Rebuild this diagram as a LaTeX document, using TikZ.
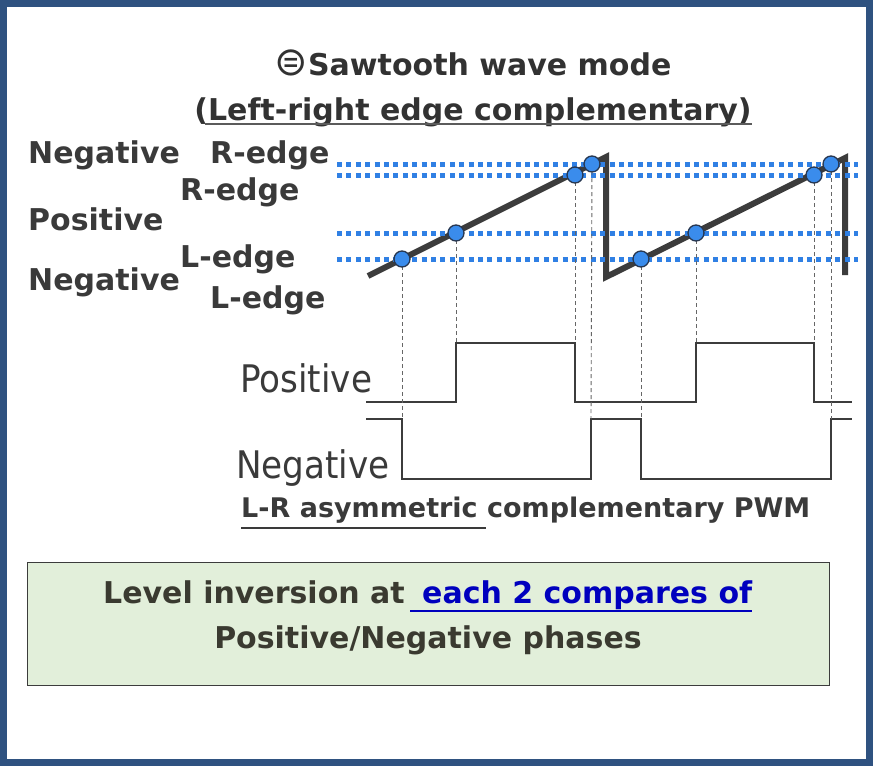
\documentclass[tikz,border=0pt]{standalone}
\usepackage{fontspec}
\setmainfont{DejaVu Sans}
\newfontfamily\wfont{DejaVu Sans}[FakeStretch=0.9]
\usetikzlibrary{calc}
\newcommand\setfs[1]{\fontsize{#1}{#1}\selectfont}
\definecolor{frameblue}{RGB}{47,82,128}
\definecolor{txt}{RGB}{58,58,58}
\definecolor{titc}{RGB}{50,50,50}
\definecolor{sawc}{RGB}{60,60,60}
\definecolor{dotblue}{RGB}{48,128,228}
\definecolor{circblue}{RGB}{58,140,236}
\definecolor{dotedge}{RGB}{40,55,80}
\definecolor{boxgreen}{RGB}{226,239,218}
\definecolor{boxedge}{RGB}{60,60,60}
\definecolor{boxtxt}{RGB}{58,58,48}
\definecolor{linkblue}{RGB}{0,0,190}
\begin{document}
\begin{tikzpicture}[x=1pt,y=-1pt,
  lbl/.style={inner sep=0pt, anchor=base west, text=txt, font=\bfseries\setfs{30}},
  wlbl/.style={inner sep=0pt, anchor=base west, text=txt, font=\wfont\setfs{38}},
  refline/.style={dotblue, line width=5pt, dash pattern=on 5pt off 4.4pt},
  sawline/.style={sawc, line width=6pt, line join=miter},
  vguide/.style={black!60, line width=0.9pt, dash pattern=on 4pt off 3pt},
  wave/.style={sawc, line width=1.6pt},
  dotc/.style={circle, fill=circblue, draw=dotedge, line width=1.3pt, minimum size=16pt, inner sep=0pt}
]
\useasboundingbox (0,0) rectangle (875,766);
\fill[white] (0,0) rectangle (875,766);
\draw[frameblue, line width=7pt] (3.5,3.5) rectangle (869.5,762.5);

% title
\node[inner sep=0pt, anchor=base, text=titc, font=\bfseries\setfs{30}] (t1) at (473,75) {{\mdseries\setfs{40}⊜}Sawtooth wave mode};
\node[inner sep=0pt, anchor=base, text=titc, font=\bfseries\setfs{30}] (t2) at (473,120) {(Left-right edge complementary)};
\draw[titc!80, line width=2pt] ($(t2.base west)+(11,3.5)$) -- ($(t2.base east)+(0,3.5)$);

% left labels
\node[lbl] (neg1) at (28,163) {Negative};
\node[lbl] (re1) at (210,163) {R-edge};
\node[lbl] (re2) at (180,200) {R-edge};
\node[lbl] (pos1) at (28,230) {Positive};
\node[lbl] (le1) at (180,267) {L-edge};
\node[lbl] (neg2) at (28,290) {Negative};
\node[lbl] (le2) at (210,308) {L-edge};

% sawtooth
\coordinate (s0) at (368,276);
\coordinate (s1) at (606,157);
\coordinate (s2) at (606,277);
\coordinate (s3) at (845,158);
\coordinate (s4) at (845,275);
\draw[sawline] (s0) -- (s1) -- (s2) -- (s3) -- (s4);

% reference levels
\foreach \yy/\nm in {164/ra,175/rb,233/rc,259/rd}{
  \coordinate (\nm w) at (337,\yy);
  \coordinate (\nm e) at (858,\yy);
  \draw[refline] (\nm w) -- (\nm e);
}

% waveforms
\coordinate (p0) at (366,402); \coordinate (p1) at (456,402);
\coordinate (p2) at (456,343); \coordinate (p3) at (575,343);
\coordinate (p4) at (575,402); \coordinate (p5) at (696,402);
\coordinate (p6) at (696,343); \coordinate (p7) at (814,343);
\coordinate (p8) at (814,402); \coordinate (p9) at (852,402);
\draw[wave] (p0) -- (p1) -- (p2) -- (p3) -- (p4) -- (p5) -- (p6) -- (p7) -- (p8) -- (p9);
\coordinate (n0) at (366,419); \coordinate (n1) at (402,419);
\coordinate (n2) at (402,479); \coordinate (n3) at (591,479);
\coordinate (n4) at (591,419); \coordinate (n5) at (641,419);
\coordinate (n6) at (641,479); \coordinate (n7) at (831,479);
\coordinate (n8) at (831,419); \coordinate (n9) at (852,419);
\draw[wave] (n0) -- (n1) -- (n2) -- (n3) -- (n4) -- (n5) -- (n6) -- (n7) -- (n8) -- (n9);

% compare points
\coordinate (c1) at (402,259); \coordinate (c2) at (456,233);
\coordinate (c3) at (575,175); \coordinate (c4) at (592,164);
\coordinate (c5) at (641,259); \coordinate (c6) at (696,233);
\coordinate (c7) at (814,175); \coordinate (c8) at (831,164);
\draw[vguide] (c1) -- (n1);
\draw[vguide] (c2) -- (p2);
\draw[vguide] (c3) -- (p3);
\draw[vguide] (c4) -- (n4);
\draw[vguide] (c5) -- (n5);
\draw[vguide] (c6) -- (p6);
\draw[vguide] (c7) -- (p7);
\draw[vguide] (c8) -- (n8);
\foreach \k in {1,...,8}{ \node[dotc] (d\k) at (c\k) {}; }

% waveform labels
\node[wlbl] (wpos) at (240,392) {Positive};
\node[wlbl] (wneg) at (236,478) {Negative};

% PWM label
\node[inner sep=0pt, anchor=base west, text=txt, font=\bfseries\setfs{27}] (pwm) at (241,517) {L-R asymmetric complementary PWM};
\draw[txt, line width=2pt] ($(pwm.base west)+(0,11)$) -- ++(245,0);

% bottom box
\node[draw=boxedge, fill=boxgreen, line width=1pt, minimum width=802pt, minimum height=123pt, inner sep=0pt, anchor=north west] (box) at (27,562) {};
\node[inner sep=0pt, anchor=base west, text=boxtxt, font=\bfseries\setfs{30}] (lv) at (103,603) {Level inversion at};
\node[inner sep=0pt, anchor=base west, text=linkblue, font=\bfseries\setfs{30}] (ec) at (422,603) {each 2 compares of};
\draw[linkblue, line width=2pt] ($(ec.base west)+(-12,8)$) -- ($(ec.base east)+(0,8)$);
\node[inner sep=0pt, anchor=base, text=boxtxt, font=\bfseries\setfs{30}] (ph) at (428,648) {Positive/Negative phases};
\end{tikzpicture}
\end{document}
